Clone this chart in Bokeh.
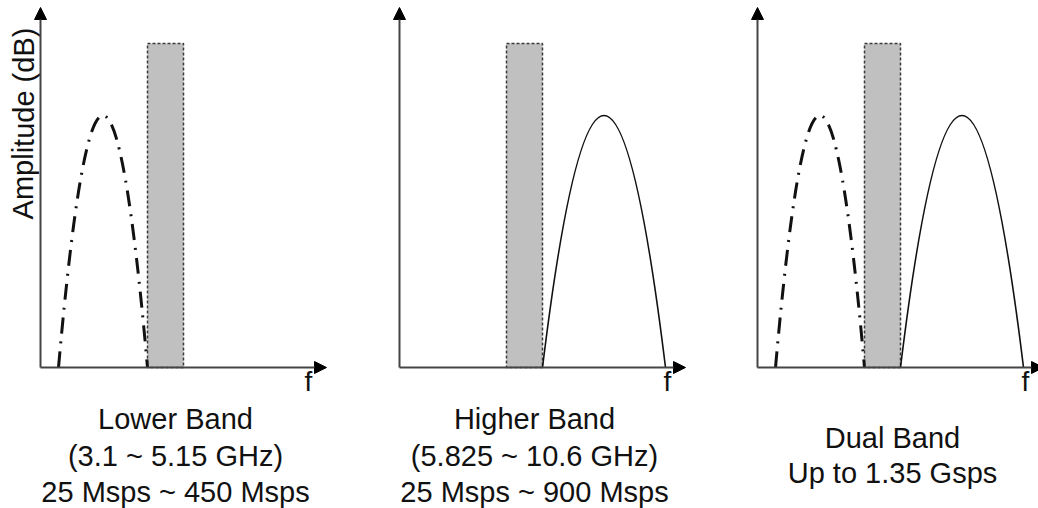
from bokeh.plotting import figure
from bokeh.models import Range1d, Arrow, NormalHead, ColumnDataSource
from bokeh.core.properties import value
from bokeh.embed import file_html
from bokeh.resources import INLINE

# ---- data (schematic spectrum, arbitrary frequency / amplitude units) ----
panel_origin = [0.0, 35.9, 71.7]            # frequency origin of each panel
axis_f_end = 28.6                            # length of the f axis
axis_a_end = 36.0                            # length of the amplitude axis
notch_band = [10.7, 14.3]                    # grey (WLAN) band, f start / end
notch_height = 32.4
low_band = [1.8, 10.7]                       # lower band f start / end
low_peak = 25.2
high_band = [14.3, 26.6]                     # higher band f start / end
high_peak = 25.2
show_low = [True, False, True]
show_high = [False, True, True]
captions = [
    ["Lower Band", "(3.1 ~ 5.15 GHz)", "25 Msps ~ 450 Msps"],
    ["Higher Band", "(5.825 ~ 10.6 GHz)", "25 Msps ~ 900 Msps"],
    ["Dual Band", "Up to 1.35 Gsps"],
]
y_label = "Amplitude (dB)"
f_label = "f"

FONT = value("Liberation Sans")
FS = "29px"

p = figure(width=1038, height=508, x_range=Range1d(-4.0, 99.8),
           y_range=Range1d(-14.1, 36.7), output_backend="svg",
           toolbar_location=None, min_border=0)
p.axis.visible = False
p.grid.visible = False
p.outline_line_color = None
p.background_fill_color = "white"
p.border_fill_color = "white"

# grey notch rectangles
p.quad(left=[o + notch_band[0] for o in panel_origin],
       right=[o + notch_band[1] for o in panel_origin],
       bottom=[0] * 3, top=[notch_height] * 3,
       fill_color="#c0c0c0", line_color="#3a3a3a", line_dash="3 2",
       line_width=1.5)

# lower band (dash-dot) curves
lo = [o for o, s in zip(panel_origin, show_low) if s]
p.quadratic(x0=[o + low_band[0] for o in lo], y0=[0] * len(lo),
            x1=[o + low_band[1] for o in lo], y1=[0] * len(lo),
            cx=[o + (low_band[0] + low_band[1]) / 2 for o in lo],
            cy=[2 * low_peak] * len(lo),
            line_color="#111111", line_width=3, line_dash="16 8 2 8")

# higher band (solid) curves
hi = [o for o, s in zip(panel_origin, show_high) if s]
p.quadratic(x0=[o + high_band[0] for o in hi], y0=[0] * len(hi),
            x1=[o + high_band[1] for o in hi], y1=[0] * len(hi),
            cx=[o + (high_band[0] + high_band[1]) / 2 for o in hi],
            cy=[2 * high_peak] * len(hi),
            line_color="#111111", line_width=1.6)

# axes as arrows
arr_src = ColumnDataSource(dict(
    x0=panel_origin + panel_origin,
    y0=[0] * 6,
    x1=[o + axis_f_end for o in panel_origin] + panel_origin,
    y1=[0] * 3 + [axis_a_end] * 3,
))
p.add_layout(Arrow(end=NormalHead(size=12, fill_color="black", line_color="black",
                                  line_width=1),
                   x_start="x0", y_start="y0", x_end="x1", y_end="y1",
                   source=arr_src, line_color="#444444", line_width=2))

# f labels
p.text(x=[o + 26.8 for o in panel_origin], y=[-1.4] * 3, text=[f_label] * 3,
       text_font=FONT, text_font_size="28px", text_align="center",
       text_baseline="alphabetic", text_color="#111111")

# amplitude label
p.text(x=[-1.7], y=[24.4], text=[y_label], angle=1.5707963,
       text_font=FONT, text_font_size=FS, text_align="center",
       text_baseline="alphabetic", text_color="#111111")

# captions
line_y = {3: [-5.1, -8.8, -12.4], 2: [-7.0, -10.5]}
cx, cy, ct = [], [], []
for o, lines in zip(panel_origin, captions):
    for t, yy in zip(lines, line_y[len(lines)]):
        cx.append(o + 13.5)
        cy.append(yy)
        ct.append(t)
p.text(x=cx, y=cy, text=ct, text_font=FONT, text_font_size=FS,
       text_align="center", text_baseline="alphabetic", text_color="#111111")

open("out.html", "w").write(file_html(p, INLINE))
